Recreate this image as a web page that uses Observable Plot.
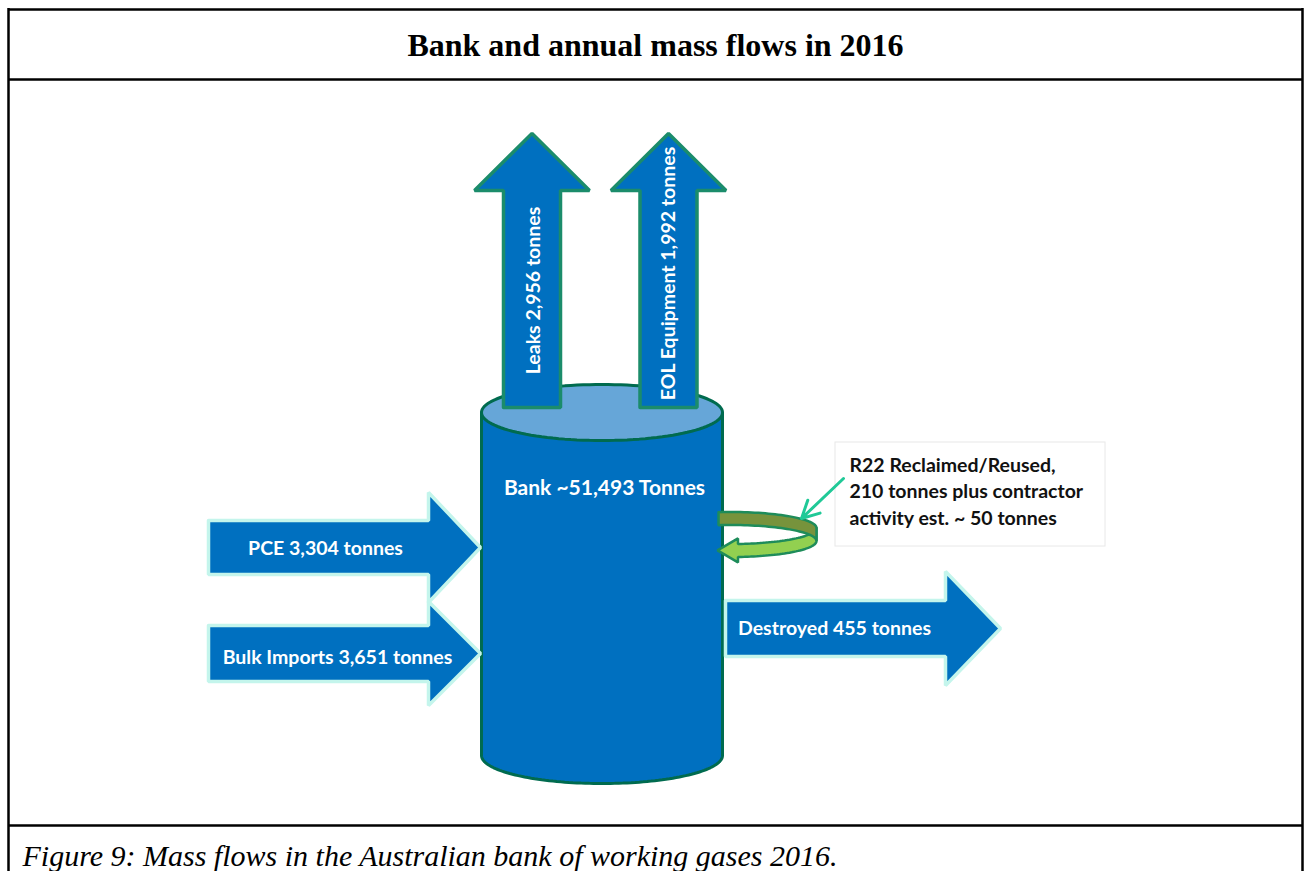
<!DOCTYPE html>
<html>
<head>
<meta charset="utf-8">
<script src="https://cdn.jsdelivr.net/npm/d3@7"></script>
<script src="https://cdn.jsdelivr.net/npm/@observablehq/plot@0.6"></script>
<style>
  html, body { margin: 0; padding: 0; background: #fff; }
  svg { display: block; }
</style>
</head>
<body>
<div id="chart"></div>
<script>
// ---------- DATA ----------
const title = "Bank and annual mass flows in 2016";
const caption = "Figure 9: Mass flows in the Australian bank of working gases 2016.";
const flows = ["PCE", "Bulk Imports", "Leaks", "EOL Equipment", "Destroyed"];
const flowTonnes = [3304, 3651, 2956, 1992, 455];
const bankName = "Bank";
const bankTonnes = 51493;
const reclaimedTonnes = 210;
const contractorTonnes = 50;
const reclaimLines = [
  "R22 Reclaimed/Reused,",
  `${reclaimedTonnes} tonnes plus contractor`,
  `activity est. ~ ${contractorTonnes} tonnes`
];

// ---------- LAYOUT (diagram geometry, pixels) ----------
const W = 1305, H = 871;
const geom = {
  "PCE":           {dir: "right", from: 208, to: 480, c: 547, s: 27, h: 55, L: 52, tx: 325, ty: 548},
  "Bulk Imports":  {dir: "right", from: 208, to: 480, c: 653, s: 28, h: 52, L: 52, tx: 337, ty: 657},
  "Leaks":         {dir: "up",    from: 407, to: 133, c: 531.5, s: 28.5, h: 57.5, L: 57, tx: 533, ty: 290},
  "EOL Equipment": {dir: "up",    from: 407, to: 133, c: 668, s: 28.5, h: 57.5, L: 57, tx: 668, ty: 273},
  "Destroyed":     {dir: "right", from: 725, to: 1000, c: 628, s: 28, h: 57, L: 55, tx: 834, ty: 628}
};
const cyl = {cx: 601.5, rx: 120.5, top: 412, bottom: 755, ry: 28};
const ring = {cx: 730, cy: 534, rx: 86, ry: 16, hw: 6.5};

function arrowPoly(name) {
  const g = geom[name];
  let pts;
  if (g.dir === "right") {
    const b = g.to - g.L;
    pts = [[g.from, g.c - g.s], [b, g.c - g.s], [b, g.c - g.h], [g.to, g.c],
           [b, g.c + g.h], [b, g.c + g.s], [g.from, g.c + g.s], [g.from, g.c - g.s]];
  } else {
    const b = g.to + g.L;
    pts = [[g.c - g.s, g.from], [g.c - g.s, b], [g.c - g.h, b], [g.c, g.to],
           [g.c + g.h, b], [g.c + g.s, b], [g.c + g.s, g.from], [g.c - g.s, g.from]];
  }
  return pts.map(([x, y]) => ({id: name, x, y}));
}
function arc(cx, cy, rx, ry, a0, a1, n, dy = 0) {
  const out = [];
  for (let i = 0; i <= n; i++) {
    const t = a0 + (a1 - a0) * i / n;
    out.push([cx + rx * Math.cos(t), cy + ry * Math.sin(t) + dy]);
  }
  return out;
}
const toObj = (id) => ([x, y]) => ({id, x, y});

// cylinder body
const bodyPts = [[cyl.cx - cyl.rx, cyl.top],
  ...arc(cyl.cx, cyl.bottom, cyl.rx, cyl.ry, Math.PI, 0, 90),
  [cyl.cx + cyl.rx, cyl.top], [cyl.cx - cyl.rx, cyl.top]].map(toObj("body"));
const topPts = arc(cyl.cx, cyl.top, cyl.rx, cyl.ry, 0, 2 * Math.PI, 120).map(toObj("top"));

// ring arrow
const rad = d => d * Math.PI / 180;
const upperTop = arc(ring.cx, ring.cy, ring.rx, ring.ry, rad(-98), 0, 40, -ring.hw);
const upperBot = arc(ring.cx, ring.cy, ring.rx, ring.ry, 0, rad(-98), 40, ring.hw);
const upperPts = [...upperTop, ...upperBot, upperTop[0]].map(toObj("upper"));
const thE = rad(85);
const xe = ring.cx + ring.rx * Math.cos(thE), ye = ring.cy + ring.ry * Math.sin(thE);
const lowerTop = arc(ring.cx, ring.cy, ring.rx, ring.ry, 0, thE, 40, -ring.hw);
const lowerBot = arc(ring.cx, ring.cy, ring.rx, ring.ry, thE, 0, 40, ring.hw);
const lowerPts = [...lowerTop, [xe, ye - 12], [717, ye], [xe, ye + 12], ...lowerBot, lowerTop[0]].map(toObj("lower"));

const fmt = d3.format(",");
const flowData = flows.map((f, i) => ({name: f, label: `${f} ${fmt(flowTonnes[i])} tonnes`, ...geom[f]}));
const inRight = flowData.filter(d => d.dir === "right");
const ups = flowData.filter(d => d.dir === "up");

const lineStyle = {x: "x", y: "y", z: "id", curve: "linear", strokeLinejoin: "miter"};
const labelFont = {fontFamily: "Lato", fontWeight: 700, fontSize: 19.5};

const plot = Plot.plot({
  width: W, height: H, margin: 0,
  x: {domain: [0, W], range: [0, W], axis: null},
  y: {domain: [0, H], range: [0, H], axis: null},
  marks: [
    // table borders
    Plot.ruleY([9, 79, 825], {x1: 8, x2: 1302, stroke: "#000", strokeWidth: 2.5}),
    Plot.ruleX([8, 1302], {y1: 8, y2: H, stroke: "#000", strokeWidth: 2.5}),
    Plot.text([title], {x: 655, y: 45, text: d => d, fontFamily: "Liberation Serif", fontWeight: 700, fontSize: 32, fill: "#000", lineAnchor: "middle"}),
    Plot.text([caption], {x: 22, y: 856, text: d => d, fontFamily: "Liberation Serif", fontStyle: "italic", fontSize: 30, fill: "#000", textAnchor: "start", lineAnchor: "middle"}),

    // cylinder
    Plot.line(bodyPts, {...lineStyle, fill: "#0070C0", stroke: "#006B4F", strokeWidth: 3}),
    Plot.line(topPts, {...lineStyle, fill: "#66A6D8", stroke: "#006B4F", strokeWidth: 3}),

    // arrows in / destroyed (light outline)
    ...inRight.map(d => Plot.line(arrowPoly(d.name), {...lineStyle, fill: "#0070C0", stroke: "#C4F5EC", strokeWidth: 3.5})),
    // arrows up (green outline)
    ...ups.map(d => Plot.line(arrowPoly(d.name), {...lineStyle, fill: "#0070C0", stroke: "#1B8C6B", strokeWidth: 3.5})),

    // ring arrow
    Plot.line(lowerPts, {...lineStyle, fill: "#92D050", stroke: "#1E8C5A", strokeWidth: 2.5}),
    Plot.line(upperPts, {...lineStyle, fill: "#77933C", stroke: "#1E8C5A", strokeWidth: 2.5}),

    // reclaim box
    Plot.rect([0], {x1: 835, x2: 1105, y1: 442, y2: 546, fill: "#fff", stroke: "#e8e8e8", strokeWidth: 1}),
    Plot.arrow([0], {x1: 843, y1: 478, x2: 801, y2: 518, stroke: "#20C997", strokeWidth: 3, headLength: 14, headAngle: 55}),
    Plot.text(reclaimLines, {x: 849, y: (d, i) => 465 + i * 26.5, text: d => d, ...labelFont, fill: "#111", textAnchor: "start", lineAnchor: "middle"}),

    // labels
    Plot.text([`${bankName} ~${fmt(bankTonnes)} Tonnes`], {x: 604, y: 488, text: d => d, ...labelFont, fontSize: 21, fill: "#fff", lineAnchor: "middle"}),
    Plot.text(inRight, {x: "tx", y: "ty", text: "label", ...labelFont, fill: "#fff", lineAnchor: "middle"}),
    Plot.text(ups, {x: "tx", y: "ty", text: "label", ...labelFont, fill: "#fff", rotate: -90, lineAnchor: "middle"})
  ]
});
document.getElementById("chart").appendChild(plot);
</script>
</body>
</html>
